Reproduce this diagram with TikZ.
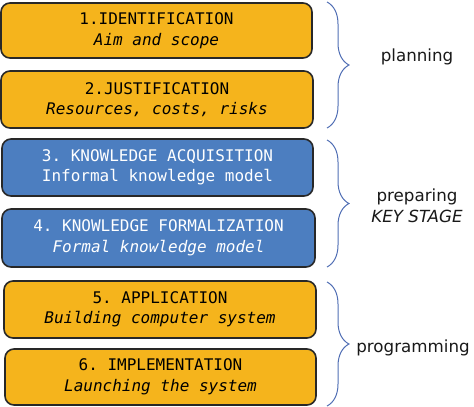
\documentclass[tikz,border=0pt]{standalone}
\usepackage{fontspec}
\setmainfont{DejaVu Sans}
\setsansfont{DejaVu Sans}
\setmonofont{DejaVu Sans Mono}
\usetikzlibrary{decorations.pathreplacing}
\definecolor{boxorange}{RGB}{245,180,28}
\definecolor{boxblue}{RGB}{76,126,192}
\definecolor{bracecol}{RGB}{80,110,180}
\definecolor{edgecol}{RGB}{40,40,40}
\begin{document}
\begin{tikzpicture}[x=1pt,y=-1pt,
  stagebox/.style={draw=edgecol,line width=1.6pt,rounded corners=9pt,align=center,
    inner sep=0pt,font=\ttfamily\fontsize{16}{20.5}\selectfont},
  orangebox/.style={stagebox,fill=boxorange,text=black},
  bluebox/.style={stagebox,fill=boxblue,text=white},
  bracestyle/.style={draw=bracecol,line width=1pt,decorate,decoration={brace,amplitude=22pt,aspect=0.5}},
  lbl/.style={font=\sffamily\fontsize{16.7}{21}\selectfont,text=black!90,align=center}]
\useasboundingbox (0,0) rectangle (474,407);
\node[orangebox,minimum width=311pt,minimum height=55pt] (s1) at (156.5,30.5)
  {1.IDENTIFICATION\\\itshape Aim and scope};
\node[orangebox,minimum width=312pt,minimum height=57pt] (s2) at (157,99.5)
  {2.JUSTIFICATION\\\itshape Resources, costs, risks};
\node[bluebox,minimum width=311pt,minimum height=57pt] (s3) at (157.5,167.5)
  {3. KNOWLEDGE ACQUISITION\\Informal knowledge model};
\node[bluebox,minimum width=313pt,minimum height=58pt] (s4) at (158.5,238)
  {4. KNOWLEDGE FORMALIZATION\\\itshape Formal knowledge model};
\node[orangebox,minimum width=312pt,minimum height=57pt] (s5) at (160,309.5)
  {5. APPLICATION\\\itshape Building computer system};
\node[orangebox,minimum width=311pt,minimum height=56pt] (s6) at (160.5,377)
  {6. IMPLEMENTATION\\\itshape Launching the system};
\coordinate (b1t) at (327,2);
\coordinate (b1b) at (327,128);
\coordinate (b2t) at (327,140);
\coordinate (b2b) at (327,267);
\coordinate (b3t) at (327,282);
\coordinate (b3b) at (327,406);
\draw[bracestyle] (b1t) -- (b1b);
\draw[bracestyle] (b2t) -- (b2b);
\draw[bracestyle] (b3t) -- (b3b);
\node[lbl] (l1) at (417,57) {planning};
\node[lbl] (l2) at (417,206) {preparing\\\itshape KEY STAGE};
\node[lbl] (l3) at (413,348) {programming};
\end{tikzpicture}
\end{document}
